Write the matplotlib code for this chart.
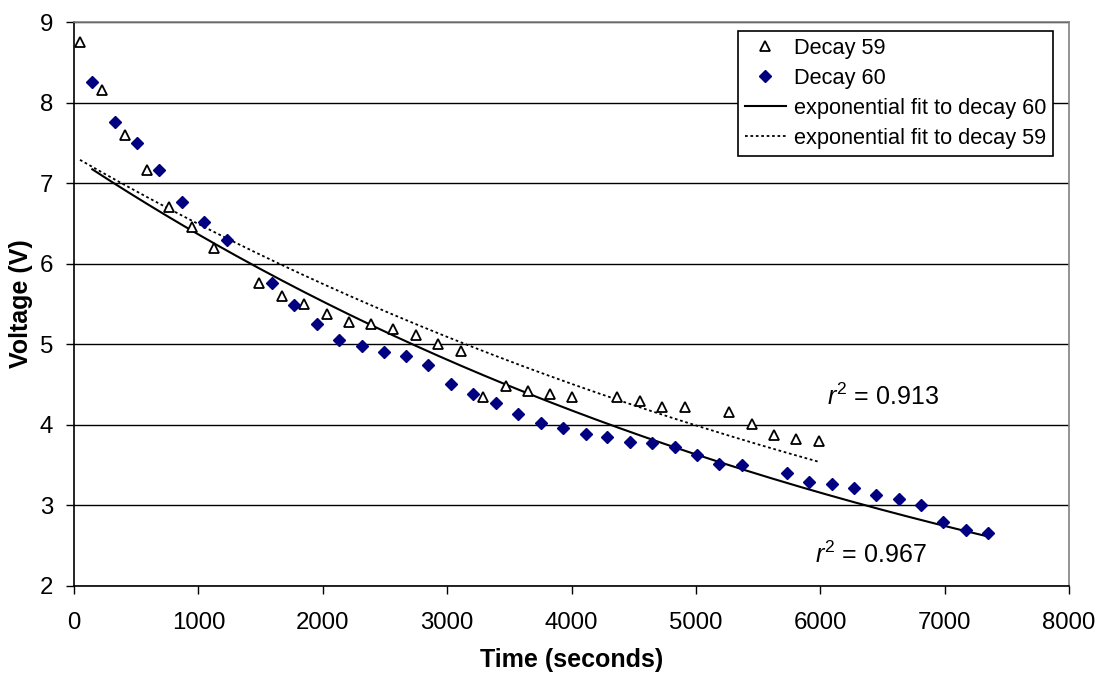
import matplotlib
matplotlib.use("Agg")
import matplotlib.pyplot as plt
import numpy as np

plt.rcParams['font.family'] = ['Liberation Sans', 'DejaVu Sans']
plt.rcParams['mathtext.fontset'] = 'custom'
plt.rcParams['mathtext.rm'] = 'Liberation Sans'
plt.rcParams['mathtext.it'] = 'Liberation Sans:italic'

# decay 59 (open triangles)
t59 = [48, 228, 410, 589, 766, 951, 1128, 1490, 1669, 1851, 2031, 2211, 2387,
       2567, 2749, 2929, 3108, 3290, 3470, 3652, 3826, 4008, 4367, 4550, 4729,
       4912, 5268, 5452, 5627, 5809, 5989]
v59 = [8.75, 8.15, 7.60, 7.16, 6.71, 6.45, 6.20, 5.76, 5.60, 5.50, 5.38, 5.28,
       5.25, 5.19, 5.11, 5.00, 4.92, 4.35, 4.48, 4.42, 4.38, 4.34, 4.34, 4.30,
       4.22, 4.22, 4.16, 4.01, 3.87, 3.82, 3.80]

# decay 60 (navy diamonds)
t60 = [147, 330, 509, 686, 871, 1048, 1227, 1589, 1771, 1951, 2130, 2312, 2492,
       2669, 2848, 3028, 3210, 3392, 3572, 3751, 3928, 4113, 4287, 4469, 4649,
       4831, 5011, 5187, 5372, 5729, 5911, 6091, 6270, 6452, 6632, 6809, 6988,
       7170, 7350]
v60 = [8.26, 7.76, 7.50, 7.16, 6.76, 6.52, 6.30, 5.76, 5.49, 5.25, 5.05, 4.98,
       4.90, 4.85, 4.74, 4.51, 4.38, 4.27, 4.13, 4.02, 3.96, 3.89, 3.85, 3.79,
       3.78, 3.73, 3.62, 3.52, 3.50, 3.40, 3.29, 3.27, 3.22, 3.13, 3.08, 3.01,
       2.80, 2.69, 2.66]

r2_labels = ['$r^2$ = 0.913', '$r^2$ = 0.967']


def exp_fit(t, v):
    # same as spreadsheet exponential trendline: linear fit of ln(v)
    t = np.asarray(t, float)
    b, lna = np.polyfit(t, np.log(v), 1)
    tt = np.linspace(t.min(), t.max(), 200)
    return tt, np.exp(lna) * np.exp(b * tt)


fig = plt.figure(figsize=(11, 6.75), dpi=100)
ax = fig.add_axes([0.0673, 0.1319, 0.9045, 0.8355])

ax.plot(t59, v59, linestyle='none', marker='^', markersize=7,
        markerfacecolor='white', markeredgecolor='black', markeredgewidth=1.3,
        label='Decay 59', zorder=4)
ax.plot(t60, v60, linestyle='none', marker='D', markersize=6.5,
        markerfacecolor='#000080', markeredgecolor='#000080',
        label='Decay 60', zorder=4)

tf60, vf60 = exp_fit(t60, v60)
tf59, vf59 = exp_fit(t59, v59)
ax.plot(tf60, vf60, color='black', linewidth=1.5,
        label='exponential fit to decay 60', zorder=3)
ax.plot(tf59, vf59, color='black', linewidth=1.3, linestyle=(0, (1.5, 1.5)),
        label='exponential fit to decay 59', zorder=3)

ax.text(6053, 4.245, r2_labels[0], fontsize=18, ha='left', va='baseline')
ax.text(5957, 2.285, r2_labels[1], fontsize=18, ha='left', va='baseline')

ax.set_xlim(0, 8000)
ax.set_ylim(2, 9)
ax.set_xticks(np.arange(0, 8001, 1000))
ax.set_yticks(np.arange(2, 10, 1))
ax.tick_params(axis='both', labelsize=17.3, direction='out', length=6,
               width=1, color='black')
ax.tick_params(axis='x', pad=13)
ax.tick_params(axis='y', pad=9)
ax.yaxis.grid(True, color='black', linewidth=1)
ax.set_axisbelow(True)

ax.spines['left'].set_color('black')
ax.spines['bottom'].set_color('black')
ax.spines['right'].set_color('#808080')
ax.spines['top'].set_color('#808080')
for s in ax.spines.values():
    s.set_linewidth(1.2)

ax.set_xlabel('Time (seconds)', fontsize=18, fontweight='bold', labelpad=10)
ax.set_ylabel('Voltage (V)', fontsize=18, fontweight='bold', labelpad=5)

leg = ax.legend(loc='upper right', bbox_to_anchor=(0.984, 0.984), fontsize=15.7,
                frameon=True, fancybox=False, framealpha=1, edgecolor='black',
                borderpad=0.3, labelspacing=0.42, handlelength=1.9,
                handletextpad=0.37, borderaxespad=0)
leg.get_frame().set_linewidth(1.2)

fig.savefig('out.png', dpi=100)
